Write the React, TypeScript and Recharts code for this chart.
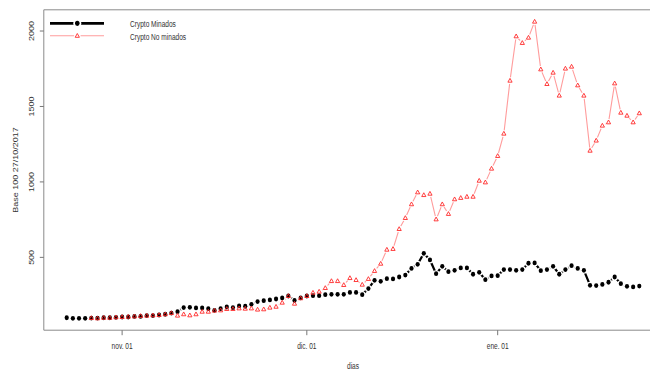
import React from 'react';
import { LineChart, Line, XAxis, YAxis, ReferenceArea, Label } from 'recharts';

// x categories: one observation per day, 23 Oct 2017 .. 24 Jan 2018 (index positions)
const dayIndex: number[] = Array.from({ length: 94 }, (_, i) => i);

const minados: number[] = [
  100, 96, 96, 96, 98, 98, 100, 100, 103, 105, 105, 109, 109, 114, 114, 118, 123, 131, 140, 167,
  169, 165, 165, 160, 149, 160, 171, 167, 178, 176, 189, 207,
  213, 218, 224, 231, 244, 215, 231, 244, 246, 246, 253, 255, 255, 255, 268, 268, 253, 293,
  348, 341, 359, 357, 370, 383, 427, 454, 527, 483, 392, 441, 405, 414, 430,
  430, 388, 401, 352, 377, 379, 419, 419, 414, 419, 461, 463, 412, 419, 441, 388, 419, 445, 427, 414,
  315, 313, 321, 335, 370, 326, 308, 304, 310,
];

const noMinados: (number | null)[] = [
  null, null, null, null,
  98, 96, 100, 100, 103, 105, 107, 109, 112, 114, 116, 118, 123, 131, 114, 123,
  116, 123, 140, 140, 147, 149, 158, 158, 162, 160, 162, 154,
  156, 167, 173, 200, 244, 193, 229, 244, 266, 273, 297, 343, 343, 317, 363, 350, 319, 357,
  410, 458, 551, 556, 688, 761, 852, 931, 913, 922, 752, 852, 788, 885, 894,
  902, 902, 1008, 997, 1088, 1172, 1320, 1671, 1965, 1921, 1956, 2062, 1746, 1649, 1724, 1572,
  1751, 1764, 1640, 1572, 1207, 1274, 1373, 1395, 1653, 1459, 1439, 1395, 1455,
];

const tickDays: number[] = [9, 39, 70];
const tickLabels: string[] = ['nov. 01', 'dic. 01', 'ene. 01'];
const yTicks: number[] = [500, 1000, 1500, 2000];
const seriesNames: string[] = ['Crypto Minados', 'Crypto No minados'];
const yTitle = 'Base 100 27/10/2017';
const xTitle = 'dias';

const data = dayIndex.map((d, i) => ({ day: d, minados: minados[i], noMinados: noMinados[i] }));

const FONT = '"Liberation Sans", Arial, Helvetica, sans-serif';
const SX = 0.73;
const TXT = '#333';
const RED_LINE = '#ff9c9c';
const RED_PT = '#ff2a2a';

const X_DOMAIN: [number, number] = [-3.72, 96.72];
const Y_DOMAIN: [number, number] = [17.4, 2140.6];

const textStyle = { fontFamily: FONT, fontSize: 9 };

const XTick = (p: any) => {
  const idx = tickDays.indexOf(p.payload.value);
  return (
    <text
      transform={`translate(${p.x},${p.y}) scale(${SX},1)`}
      textAnchor="middle"
      style={textStyle}
      fill={TXT}
    >
      {tickLabels[idx]}
    </text>
  );
};

const YTick = (p: any) => (
  <text
    transform={`translate(${p.x},${p.y}) scale(${SX},1) rotate(-90)`}
    textAnchor="middle"
    style={textStyle}
    fill={TXT}
  >
    {p.payload.value}
  </text>
);

const haloDot = (r: number) => (p: any) => {
  if (p.cy == null || p.cx == null) return <g key={`h${p.index}`} />;
  return <circle key={`h${p.index}`} cx={p.cx} cy={p.cy} r={r} fill="#fff" stroke="none" />;
};

const blackDot = (p: any) => {
  if (p.cy == null || p.cx == null) return <g key={`b${p.index}`} />;
  return <ellipse key={`b${p.index}`} cx={p.cx} cy={p.cy} rx={2.1} ry={2.4} fill="#000" stroke="none" />;
};

const triPath = (cx: number, cy: number) =>
  `M${cx},${cy - 2.3} L${cx + 2.1},${cy + 1.5} L${cx - 2.1},${cy + 1.5} Z`;

const triDot = (p: any) => {
  if (p.cy == null || p.cx == null) return <g key={`t${p.index}`} />;
  return <path key={`t${p.index}`} d={triPath(p.cx, p.cy)} fill="none" stroke={RED_PT} strokeWidth={0.9} />;
};

const XTitle = (p: any) => {
  const vb = p.viewBox || { x: 43.8, width: 618.4 };
  return (
    <text
      transform={`translate(${vb.x + vb.width / 2},369) scale(${SX},1)`}
      textAnchor="middle"
      style={textStyle}
      fill={TXT}
    >
      {xTitle}
    </text>
  );
};

const YTitle = (p: any) => {
  const vb = p.viewBox || { y: 9.8, height: 320.4 };
  return (
    <text
      transform={`translate(17.5,${vb.y + vb.height / 2}) scale(${SX},1) rotate(-90)`}
      textAnchor="middle"
      style={textStyle}
      fill={TXT}
    >
      {yTitle}
    </text>
  );
};

const LegendBox = () => (
  <svg
    width={220}
    height={50}
    style={{ position: 'absolute', left: 0, top: 0, pointerEvents: 'none' }}
  >
    <line x1={50} y1={23.3} x2={104} y2={23.3} stroke="#000" strokeWidth={2.7} />
    <circle cx={77.3} cy={23.3} r={4} fill="#fff" />
    <ellipse cx={77.3} cy={23.3} rx={2.3} ry={2.6} fill="#000" />
    <line x1={50} y1={35.8} x2={104} y2={35.8} stroke={RED_LINE} strokeWidth={1.1} />
    <circle cx={77.3} cy={35.8} r={3.3} fill="#fff" />
    <path d={triPath(77.3, 35.8)} fill="none" stroke={RED_PT} strokeWidth={0.9} />
    <text transform={`translate(130,27.3) scale(${SX},1)`} style={textStyle} fill={TXT}>
      {seriesNames[0]}
    </text>
    <text transform={`translate(130,39.8) scale(${SX},1)`} style={textStyle} fill={TXT}>
      {seriesNames[1]}
    </text>
  </svg>
);

export default function App() {
  return (
    <div
      style={{
        position: 'absolute',
        left: 0,
        top: 0,
        width: 650,
        height: 371,
        overflow: 'hidden',
        background: '#fff',
        fontFamily: FONT,
      }}
    >
      <LineChart
        width={680}
        height={371}
        data={data}
        margin={{ top: 9.8, right: 17.8, bottom: 0, left: 0 }}
      >
        <XAxis
          dataKey="day"
          type="number"
          domain={X_DOMAIN}
          ticks={tickDays}
          interval={0}
          allowDataOverflow
          height={40.8}
          axisLine={false}
          tickLine={{ stroke: '#777' }}
          tickSize={5}
          tickMargin={13.8}
          tick={XTick}
        >
          <Label content={XTitle} />
        </XAxis>
        <YAxis
          type="number"
          domain={Y_DOMAIN}
          ticks={yTicks}
          interval={0}
          allowDataOverflow
          width={43.8}
          axisLine={false}
          tickLine={{ stroke: '#777' }}
          tickSize={4}
          tickMargin={5.8}
          tick={YTick}
        >
          <Label content={YTitle} />
        </YAxis>
        <ReferenceArea
          x1={X_DOMAIN[0]}
          x2={X_DOMAIN[1]}
          y1={Y_DOMAIN[0]}
          y2={Y_DOMAIN[1]}
          fill="none"
          stroke="#8a8a8a"
          strokeWidth={1}
          ifOverflow="visible"
        />
        <Line
          dataKey="minados"
          stroke="#000"
          strokeWidth={2.2}
          dot={haloDot(3.5)}
          activeDot={false}
          isAnimationActive={false}
        />
        <Line
          dataKey="noMinados"
          stroke={RED_LINE}
          strokeWidth={1.1}
          dot={haloDot(3.3)}
          activeDot={false}
          isAnimationActive={false}
        />
        <Line
          dataKey="minados"
          stroke="none"
          dot={blackDot}
          activeDot={false}
          isAnimationActive={false}
        />
        <Line
          dataKey="noMinados"
          stroke="none"
          dot={triDot}
          activeDot={false}
          isAnimationActive={false}
        />
      </LineChart>
      <LegendBox />
    </div>
  );
}
